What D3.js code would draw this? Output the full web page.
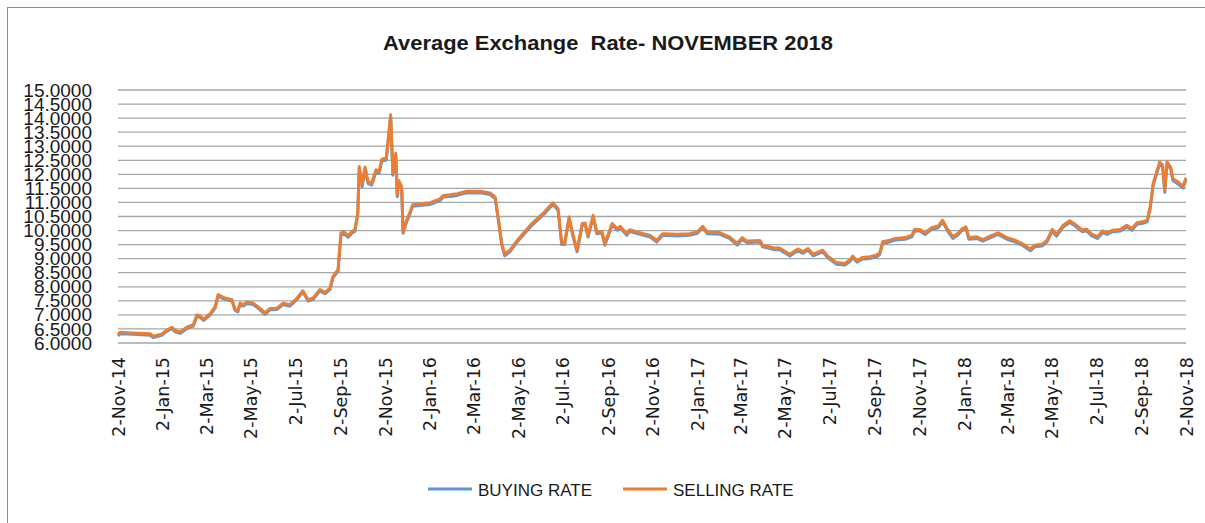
<!DOCTYPE html>
<html>
<head>
<meta charset="utf-8">
<script src="https://cdn.jsdelivr.net/npm/d3@7"></script>
<style>
  html, body { margin: 0; padding: 0; background: #fff; }
  svg { display: block; }
</style>
</head>
<body>
<div id="chart"></div>
<script>
// values
const dates = [
  "2014-11-02","2014-11-05","2014-11-22","2014-12-16","2014-12-20","2015-01-01","2015-01-08","2015-01-15",
  "2015-01-19","2015-01-26","2015-02-04","2015-02-13","2015-02-18","2015-02-22","2015-02-27","2015-03-08",
  "2015-03-15","2015-03-19","2015-03-28","2015-04-07","2015-04-11","2015-04-15","2015-04-18","2015-04-22",
  "2015-04-27","2015-05-06","2015-05-15","2015-05-22","2015-05-29","2015-06-07","2015-06-16","2015-06-25",
  "2015-07-05","2015-07-13","2015-07-20","2015-07-27","2015-08-05","2015-08-12","2015-08-19","2015-08-23",
  "2015-08-30","2015-09-03","2015-09-06","2015-09-13","2015-09-18","2015-09-22","2015-09-26","2015-09-28",
  "2015-10-02","2015-10-06","2015-10-10","2015-10-15","2015-10-21","2015-10-25","2015-10-29","2015-11-04",
  "2015-11-10","2015-11-13","2015-11-17","2015-11-19","2015-11-21","2015-11-25","2015-11-27","2015-12-02",
  "2015-12-06","2015-12-10","2015-12-20","2016-01-03","2016-01-16","2016-01-21","2016-01-30","2016-02-09",
  "2016-02-22","2016-03-11","2016-03-25","2016-04-01","2016-04-05","2016-04-10","2016-04-14","2016-04-21",
  "2016-05-01","2016-05-19","2016-06-05","2016-06-19","2016-06-26","2016-07-01","2016-07-05","2016-07-11",
  "2016-07-16","2016-07-22","2016-07-29","2016-08-02","2016-08-06","2016-08-13","2016-08-18","2016-08-25",
  "2016-08-29","2016-09-08","2016-09-15","2016-09-19","2016-09-28","2016-10-02","2016-10-12","2016-10-30",
  "2016-11-08","2016-11-16","2016-12-06","2016-12-23","2017-01-02","2017-01-10","2017-01-16","2017-02-02",
  "2017-02-16","2017-02-26","2017-03-05","2017-03-11","2017-03-29","2017-04-02","2017-04-16","2017-04-25",
  "2017-05-09","2017-05-20","2017-05-27","2017-06-03","2017-06-10","2017-06-23","2017-06-30","2017-07-12",
  "2017-07-23","2017-07-30","2017-08-03","2017-08-09","2017-08-16","2017-08-27","2017-09-05","2017-09-09",
  "2017-09-13","2017-09-23","2017-09-30","2017-10-14","2017-10-23","2017-10-27","2017-11-03","2017-11-10",
  "2017-11-19","2017-11-28","2017-12-04","2017-12-11","2017-12-18","2017-12-25","2017-12-30","2018-01-05",
  "2018-01-09","2018-01-20","2018-01-28","2018-02-07","2018-02-18","2018-03-02","2018-03-13","2018-03-24",
  "2018-04-03","2018-04-09","2018-04-19","2018-04-26","2018-05-03","2018-05-09","2018-05-18","2018-05-27",
  "2018-06-03","2018-06-13","2018-06-19","2018-06-26","2018-07-04","2018-07-11","2018-07-17","2018-07-24",
  "2018-08-04","2018-08-13","2018-08-20","2018-08-27","2018-09-03","2018-09-10","2018-09-14","2018-09-18",
  "2018-09-27","2018-10-01","2018-10-04","2018-10-07","2018-10-12","2018-10-15","2018-10-22","2018-10-29",
  "2018-11-02"
];

const sellingRate = [
  6.30, 6.38, 6.36, 6.33, 6.24, 6.32, 6.47, 6.56,
  6.45, 6.39, 6.56, 6.65, 7.00, 6.97, 6.85, 7.04,
  7.30, 7.72, 7.60, 7.54, 7.21, 7.16, 7.42, 7.36,
  7.45, 7.42, 7.24, 7.07, 7.23, 7.24, 7.42, 7.36,
  7.60, 7.86, 7.54, 7.60, 7.90, 7.80, 7.95, 8.37,
  8.61, 9.91, 9.97, 9.82, 9.97, 10.03, 10.62, 12.28,
  11.63, 12.26, 11.75, 11.69, 12.16, 12.10, 12.54, 12.58,
  14.12, 12.04, 12.75, 11.27, 11.78, 11.57, 9.97, 10.38,
  10.62, 10.92, 10.95, 10.99, 11.12, 11.25, 11.27, 11.31,
  11.40, 11.40, 11.34, 11.19, 10.48, 9.54, 9.16, 9.30,
  9.65, 10.19, 10.60, 10.99, 10.78, 9.56, 9.56, 10.48,
  9.89, 9.30, 10.25, 10.27, 9.83, 10.54, 9.95, 9.97,
  9.54, 10.25, 10.07, 10.15, 9.89, 10.03, 9.95, 9.83,
  9.65, 9.89, 9.87, 9.89, 9.95, 10.15, 9.95, 9.93,
  9.77, 9.54, 9.75, 9.63, 9.65, 9.48, 9.39, 9.38,
  9.16, 9.34, 9.25, 9.36, 9.16, 9.30, 9.09, 8.86,
  8.83, 8.95, 9.09, 8.93, 9.04, 9.07, 9.13, 9.21,
  9.60, 9.66, 9.72, 9.75, 9.84, 10.05, 10.04, 9.92,
  10.10, 10.16, 10.37, 10.04, 9.78, 9.90, 10.05, 10.13,
  9.75, 9.78, 9.68, 9.80, 9.92, 9.75, 9.66, 9.52,
  9.34, 9.48, 9.51, 9.66, 10.04, 9.86, 10.19, 10.35,
  10.23, 10.02, 10.05, 9.87, 9.78, 9.99, 9.92, 10.01,
  10.04, 10.19, 10.07, 10.28, 10.31, 10.37, 10.84, 11.67,
  12.44, 12.32, 11.43, 12.44, 12.26, 11.85, 11.73, 11.58,
  11.88
];

const buyingRate = [
  6.25, 6.33, 6.31, 6.28, 6.19, 6.27, 6.42, 6.51,
  6.40, 6.34, 6.51, 6.60, 6.95, 6.92, 6.80, 6.99,
  7.25, 7.67, 7.55, 7.49, 7.16, 7.11, 7.37, 7.31,
  7.40, 7.37, 7.19, 7.02, 7.18, 7.19, 7.37, 7.31,
  7.55, 7.81, 7.49, 7.55, 7.85, 7.75, 7.90, 8.32,
  8.56, 9.85, 9.91, 9.76, 9.91, 9.97, 10.56, 12.21,
  11.56, 12.19, 11.68, 11.62, 12.09, 12.03, 12.47, 12.51,
  14.05, 11.97, 12.68, 11.20, 11.71, 11.50, 9.90, 10.32,
  10.56, 10.86, 10.89, 10.93, 11.06, 11.19, 11.21, 11.25,
  11.34, 11.34, 11.28, 11.13, 10.42, 9.48, 9.10, 9.24,
  9.59, 10.13, 10.54, 10.93, 10.72, 9.50, 9.50, 10.42,
  9.83, 9.24, 10.19, 10.21, 9.77, 10.48, 9.89, 9.91,
  9.48, 10.19, 10.01, 10.09, 9.83, 9.97, 9.89, 9.77,
  9.59, 9.83, 9.81, 9.83, 9.89, 10.09, 9.89, 9.87,
  9.71, 9.48, 9.69, 9.57, 9.59, 9.42, 9.33, 9.32,
  9.10, 9.28, 9.19, 9.30, 9.10, 9.24, 9.03, 8.80,
  8.77, 8.89, 9.03, 8.87, 8.98, 9.01, 9.07, 9.15,
  9.54, 9.60, 9.66, 9.69, 9.78, 9.99, 9.98, 9.86,
  10.04, 10.10, 10.31, 9.98, 9.72, 9.84, 9.99, 10.07,
  9.69, 9.72, 9.62, 9.74, 9.86, 9.69, 9.60, 9.46,
  9.28, 9.42, 9.45, 9.60, 9.98, 9.80, 10.13, 10.29,
  10.17, 9.96, 9.99, 9.81, 9.72, 9.93, 9.86, 9.95,
  9.98, 10.13, 10.01, 10.22, 10.25, 10.31, 10.78, 11.60,
  12.37, 12.25, 11.36, 12.37, 12.19, 11.78, 11.66, 11.51,
  11.81
];

const yTicks = [6, 6.5, 7, 7.5, 8, 8.5, 9, 9.5, 10, 10.5, 11, 11.5, 12, 12.5, 13, 13.5, 14, 14.5, 15];
const xTickDates = [
  "2014-11-02","2015-01-02","2015-03-02","2015-05-02","2015-07-02","2015-09-02","2015-11-02",
  "2016-01-02","2016-03-02","2016-05-02","2016-07-02","2016-09-02","2016-11-02",
  "2017-01-02","2017-03-02","2017-05-02","2017-07-02","2017-09-02","2017-11-02",
  "2018-01-02","2018-03-02","2018-05-02","2018-07-02","2018-09-02","2018-11-02"
];
const seriesNames = ["BUYING RATE", "SELLING RATE"];
const seriesColors = ["#5B9BD5", "#ED7D31"];
const title = "Average Exchange  Rate- NOVEMBER 2018";

const W = 1205, H = 523;
const plot = { l: 118, r: 1186, t: 90, b: 343 };

const parse = d3.timeParse("%Y-%m-%d");
const fmt = d3.timeFormat("%-d-%b-%y");

const n = Math.min(dates.length, sellingRate.length, buyingRate.length);
const rows = d3.range(n).map(i => ({ date: parse(dates[i]), sell: sellingRate[i], buy: buyingRate[i] }));

const svg = d3.select("#chart").append("svg")
  .attr("width", W)
  .attr("height", H);

// outer chart border (only top/left edges show in the shot)
svg.append("rect")
  .attr("x", 7.5).attr("y", 7.5)
  .attr("width", W + 10).attr("height", H + 10)
  .attr("fill", "#fff")
  .attr("stroke", "#8c8c8c")
  .attr("stroke-width", 1);

const x = d3.scaleTime()
  .domain([parse(xTickDates[0]), parse(xTickDates[xTickDates.length - 1])])
  .range([plot.l, plot.r]);

const y = d3.scaleLinear()
  .domain([6, 15])
  .range([plot.b, plot.t]);

// gridlines
svg.append("g")
  .selectAll("line")
  .data(yTicks)
  .join("line")
  .attr("x1", plot.l).attr("x2", plot.r)
  .attr("y1", d => y(d)).attr("y2", d => y(d))
  .attr("stroke", "#a6a6a6")
  .attr("stroke-width", 1.3);

// y axis labels
const yAxis = svg.append("g")
  .attr("transform", `translate(${plot.l},0)`)
  .call(d3.axisLeft(y).tickValues(yTicks).tickFormat(d3.format(".4f")).tickSize(0).tickPadding(26));
yAxis.select(".domain").remove();
yAxis.selectAll("text")
  .attr("font-family", "'Liberation Sans', Arial, sans-serif")
  .attr("font-size", 19)
  .attr("fill", "#1a1a1a");

// x axis labels, rotated
const xAxis = svg.append("g")
  .attr("transform", `translate(0,${plot.b})`)
  .call(d3.axisBottom(x).tickValues(xTickDates.map(parse)).tickFormat(fmt).tickSize(0));
xAxis.select(".domain").remove();
xAxis.selectAll("text")
  .attr("font-family", "'DejaVu Sans', sans-serif")
  .attr("font-size", 17.5)
  .attr("fill", "#1a1a1a")
  .attr("text-anchor", "end")
  .attr("transform", "rotate(-90)")
  .attr("x", -14)
  .attr("y", 0)
  .attr("dy", "0.36em");

// series lines
const lineBuy = d3.line().x(d => x(d.date)).y(d => y(d.buy));
const lineSell = d3.line().x(d => x(d.date)).y(d => y(d.sell));

svg.append("path")
  .datum(rows)
  .attr("d", lineBuy)
  .attr("fill", "none")
  .attr("stroke", seriesColors[0])
  .attr("stroke-width", 3)
  .attr("stroke-linejoin", "round");

svg.append("path")
  .datum(rows)
  .attr("d", lineSell)
  .attr("fill", "none")
  .attr("stroke", seriesColors[1])
  .attr("stroke-width", 3)
  .attr("stroke-linejoin", "round");

// title
svg.append("text")
  .attr("x", 608)
  .attr("y", 50)
  .attr("text-anchor", "middle")
  .attr("font-family", "'Liberation Sans', Arial, sans-serif")
  .attr("font-weight", 700)
  .attr("font-size", 20)
  .attr("fill", "#1a1a1a")
  .style("white-space", "pre")
  .attr("textLength", 450)
  .attr("lengthAdjust", "spacingAndGlyphs")
  .text(title);

// legend
const legendX = [428, 623];
const legend = svg.append("g")
  .selectAll("g")
  .data(seriesNames)
  .join("g")
  .attr("transform", (d, i) => `translate(${legendX[i]},489)`);

legend.append("line")
  .attr("x1", 0).attr("x2", 44)
  .attr("stroke", (d, i) => seriesColors[i])
  .attr("stroke-width", 3);

legend.append("text")
  .attr("x", 50)
  .attr("y", 7)
  .attr("font-family", "'Liberation Sans', Arial, sans-serif")
  .attr("font-size", 17)
  .attr("fill", "#1a1a1a")
  .text(d => d);
</script>
</body>
</html>
